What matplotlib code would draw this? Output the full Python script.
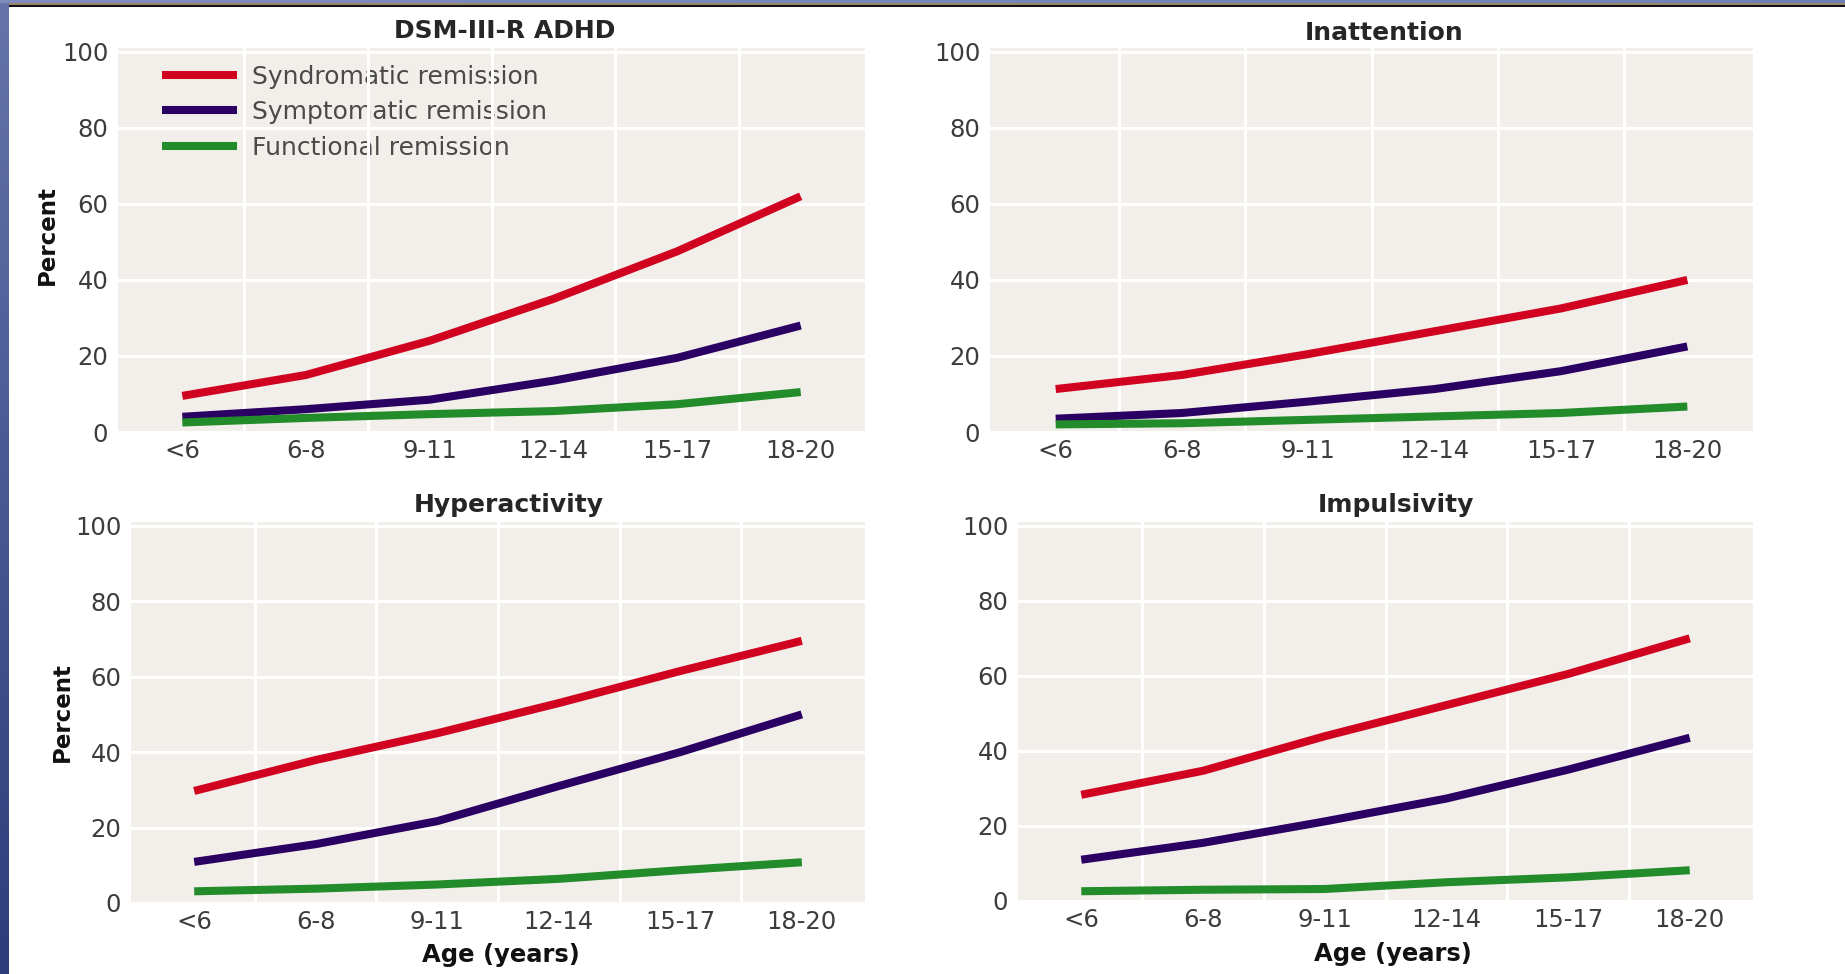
import numpy as np
import matplotlib
matplotlib.use("Agg")
import matplotlib.pyplot as plt
from matplotlib.patches import Rectangle
from matplotlib.ticker import FixedLocator

plt.rcParams['font.family'] = ['DejaVu Sans']

# Age groups on the x axis
age_groups = ["<6", "6-8", "9-11", "12-14", "15-17", "18-20"]

# Percent in remission per age group, one panel per symptom domain
adhd_syndromatic = [9.5, 15, 24, 35, 47.5, 62]
adhd_symptomatic = [4, 6, 8.5, 13.5, 19.5, 28]
adhd_functional = [2.5, 3.7, 4.7, 5.5, 7.3, 10.5]

inatt_syndromatic = [11.3, 15, 20.5, 26.5, 32.5, 40]
inatt_symptomatic = [3.5, 5, 8, 11.3, 16, 22.5]
inatt_functional = [2, 2.3, 3.2, 4.1, 5, 6.7]

hyper_syndromatic = [29.7, 37.9, 45, 53, 61.5, 69.5]
hyper_symptomatic = [10.9, 15.6, 21.7, 31, 40, 50]
hyper_functional = [3.1, 3.8, 4.9, 6.4, 8.7, 10.8]

impul_syndromatic = [28.3, 34.7, 43.9, 52.2, 60.5, 70]
impul_symptomatic = [11, 15.5, 21.2, 27.3, 35, 43.5]
impul_functional = [2.6, 3, 3.2, 5, 6.3, 8.2]

series_names = ["Syndromatic remission", "Symptomatic remission", "Functional remission"]
series_colors = ["#D0021F", "#2A0062", "#228B2A"]

panels = [
    ("DSM-III-R ADHD", [adhd_syndromatic, adhd_symptomatic, adhd_functional]),
    ("Inattention", [inatt_syndromatic, inatt_symptomatic, inatt_functional]),
    ("Hyperactivity", [hyper_syndromatic, hyper_symptomatic, hyper_functional]),
    ("Impulsivity", [impul_syndromatic, impul_symptomatic, impul_functional]),
]

W, H = 1845, 974
fig = plt.figure(figsize=(W / 100, H / 100), dpi=100)
fig.patch.set_facecolor("white")


def px_axes(left, top, right, bottom):
    return fig.add_axes([left / W, 1 - bottom / H, (right - left) / W, (bottom - top) / H])


# slide frame: blue stripe on the left, coloured rule along the top
ax_side = fig.add_axes([0, 0, 9 / W, 1])
side = np.linspace(0, 1, 200)[:, None, None]
top_c = np.array([100, 116, 170]) / 255
bot_c = np.array([44, 62, 122]) / 255
ax_side.imshow(top_c * (1 - side) + bot_c * side, aspect="auto", extent=[0, 1, 0, 1])
ax_side.axis("off")

ax_top = fig.add_axes([0, 1 - 3 / H, 1, 3 / H])
acr = np.linspace(0, 1, 400)[None, :, None]
l_c = np.array([128, 140, 190]) / 255
r_c = np.array([108, 130, 182]) / 255
ax_top.imshow(l_c * (1 - acr) + r_c * acr, aspect="auto", extent=[0, 1, 0, 1])
ax_top.axis("off")
fig.add_artist(Rectangle((9 / W, 1 - 5 / H), 1, 2 / H, transform=fig.transFigure,
                         facecolor="#9A8468", edgecolor="none"))
fig.add_artist(Rectangle((9 / W, 1 - 7 / H), 1, 2 / H, transform=fig.transFigure,
                         facecolor="#111111", edgecolor="none"))

boxes = [(118, 48, 865, 432), (990, 48, 1753, 432),
         (131, 522, 865, 903), (1018, 522, 1753, 901)]
title_pos = [(0.518, 1.045), (0.516, 1.038), (0.515, 1.045), (0.514, 1.045)]

x = np.arange(len(age_groups))
axes = []
for i, ((title, values), box) in enumerate(zip(panels, boxes)):
    ax = px_axes(*box)
    axes.append(ax)
    ax.set_facecolor("#F2EEEA")
    for s in ax.spines.values():
        s.set_visible(False)
    ax.set_axisbelow(True)
    for vals, name, col in zip(values, series_names, series_colors):
        ax.plot(x, vals, color=col, lw=5.8, solid_capstyle="butt",
                solid_joinstyle="miter", label=name, zorder=2)
    ax.set_xlim(-0.52, 5.52)
    ax.set_ylim(0, 101)
    ax.set_xticks(x)
    ax.set_xticklabels(age_groups)
    ax.xaxis.set_minor_locator(FixedLocator(x[:-1] + 0.5))
    ax.set_yticks([0, 20, 40, 60, 80, 100])
    ax.grid(which="minor", axis="x", color="white", lw=2.2)
    ax.grid(which="major", axis="y", color="white", lw=2.2)
    ax.tick_params(which="both", length=0)
    ax.tick_params(axis="y", pad=7, labelsize=17.5, labelcolor="#3c3c3c")
    ax.tick_params(axis="x", pad=5, labelsize=17.5, labelcolor="#3c3c3c")
    tx, ty = title_pos[i]
    ax.text(tx, ty, title, transform=ax.transAxes, ha="center", va="center",
            fontsize=18, fontweight="bold", color="#262626")
    if i in (0, 2):
        ax.set_ylabel("Percent", fontsize=16.5, fontweight="bold", color="#111111",
                      va="center")
    if i in (2, 3):
        ax.set_xlabel("Age (years)", fontsize=17.5, fontweight="bold", color="#111111",
                      va="center")

axes[0].yaxis.set_label_coords(-0.095, 0.513)
axes[2].yaxis.set_label_coords(-0.094, 0.50)
axes[2].xaxis.set_label_coords(0.504, -0.136)
axes[3].xaxis.set_label_coords(0.51, -0.14)

leg = axes[0].legend(loc="upper left", bbox_to_anchor=(0.0589, 0.957), frameon=False,
                     fontsize=18, labelcolor="#4a4a4a", handlelength=3.0,
                     handletextpad=0.6, labelspacing=0.46, borderpad=0, borderaxespad=0)
leg.set_zorder(0.4)

fig.savefig("out.png", dpi=100)
